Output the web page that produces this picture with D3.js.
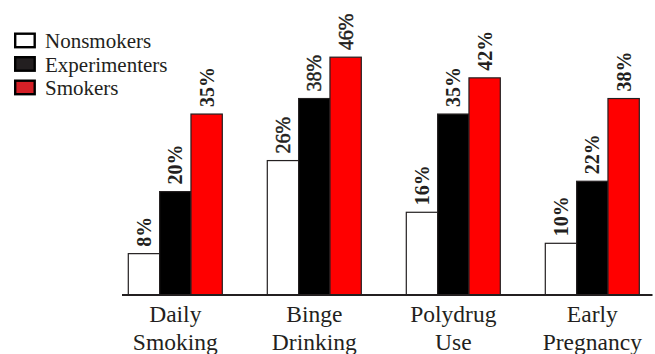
<!DOCTYPE html>
<html>
<head>
<meta charset="utf-8">
<script src="https://cdn.jsdelivr.net/npm/d3@7/dist/d3.min.js"></script>
<style>
  html, body { margin: 0; padding: 0; background: #fff; }
  svg { display: block; }
</style>
</head>
<body>
<svg id="chart" width="655" height="354"></svg>
<script>
const categories = [["Daily", "Smoking"], ["Binge", "Drinking"], ["Polydrug", "Use"], ["Early", "Pregnancy"]];
const seriesNames = ["Nonsmokers", "Experimenters", "Smokers"];
const nonsmokers = [8, 26, 16, 10];
const experimenters = [20, 38, 35, 22];
const smokers = [35, 46, 42, 38];
const valueLabels = [["8%", "20%", "35%"], ["26%", "38%", "46%"], ["16%", "35%", "42%"], ["10%", "22%", "38%"]];
const boldGroups = [true, false, true, true];

const barFill = ["#ffffff", "#000000", "#ff0000"];
const legendFill = ["#ffffff", "#231f20", "#d42027"];
const ink = "#231f20";
const font = "'Liberation Serif', 'Times New Roman', serif";

const svg = d3.select("#chart");
const seriesValues = [nonsmokers, experimenters, smokers];

const x0 = d3.scaleBand()
  .domain(d3.range(categories.length))
  .range([122, 645.6])
  .paddingInner(0.3237)
  .paddingOuter(0.0453);
const x1 = d3.scaleBand()
  .domain(d3.range(seriesNames.length))
  .range([0, x0.bandwidth()]);
const y = d3.scaleLinear().domain([0, 50]).range([295, 36.5]);

// bars
const groups = svg.append("g").selectAll("g")
  .data(categories.map((c, i) => i))
  .join("g")
  .attr("transform", i => `translate(${x0(i)},0)`);

groups.selectAll("rect")
  .data(i => seriesValues.map((s, k) => ({ k, v: s[i], g: i })))
  .join("rect")
  .attr("x", d => x1(d.k))
  .attr("y", d => y(d.v))
  .attr("width", x1.bandwidth())
  .attr("height", d => y(0) - y(d.v))
  .attr("fill", d => barFill[d.k])
  .attr("stroke", ink)
  .attr("stroke-width", 1.2);

groups.selectAll("text.val")
  .data(i => seriesValues.map((s, k) => ({ k, v: s[i], g: i })))
  .join("text")
  .attr("class", "val")
  .attr("transform", d => `translate(${x1(d.k) + x1.bandwidth() / 2},${y(d.v) - 7}) rotate(-90)`)
  .attr("dy", "0.35em")
  .attr("text-anchor", "start")
  .attr("font-family", font)
  .attr("font-size", 20)
  .attr("font-weight", d => boldGroups[d.g] ? "bold" : "normal")
  .attr("stroke", d => boldGroups[d.g] ? "none" : ink)
  .attr("stroke-width", 0.45)
  .attr("fill", ink)
  .text(d => valueLabels[d.g][d.k]);

// axis baseline
const xAxis = d3.axisBottom(x0).tickSize(0).tickFormat("");
const axisG = svg.append("g").attr("transform", `translate(0,${y(0)})`).call(xAxis);
axisG.select(".domain").remove();
axisG.append("line")
  .attr("x1", 122).attr("x2", 652.5)
  .attr("stroke", ink).attr("stroke-width", 2.2);

// category labels
categories.forEach((lines, i) => {
  const t = svg.append("text")
    .attr("x", x0(i) + x0.bandwidth() / 2)
    .attr("y", 322)
    .attr("text-anchor", "middle")
    .attr("font-family", font)
    .attr("font-size", 23.5)
    .attr("fill", ink);
  lines.forEach((ln, j) => {
    t.append("tspan")
      .attr("x", x0(i) + x0.bandwidth() / 2)
      .attr("dy", j === 0 ? 0 : 28)
      .text(ln);
  });
});

// legend
const legend = svg.append("g").attr("transform", "translate(14,32.5)");
const li = legend.selectAll("g").data(seriesNames).join("g")
  .attr("transform", (d, i) => `translate(0,${i * 23.5})`);
li.append("rect")
  .attr("x", 1.2).attr("y", 1.2)
  .attr("width", 19.5).attr("height", 13.5)
  .attr("fill", (d, i) => legendFill[i])
  .attr("stroke", "#000").attr("stroke-width", 2.4);
li.append("text")
  .attr("x", 31).attr("y", 15.5)
  .attr("font-family", font)
  .attr("font-size", 21)
  .attr("fill", ink)
  .text(d => d);
</script>
</body>
</html>
